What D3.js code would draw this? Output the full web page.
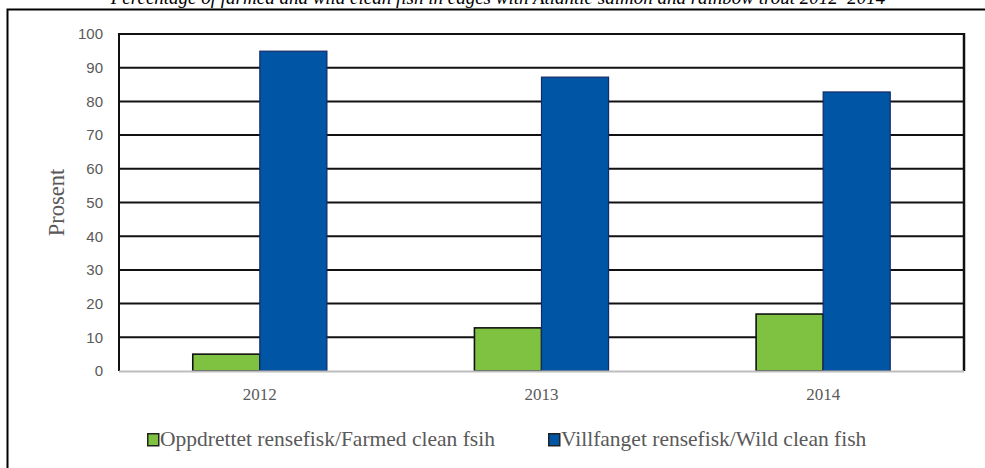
<!DOCTYPE html>
<html>
<head>
<meta charset="utf-8">
<script src="https://cdn.jsdelivr.net/npm/d3@7"></script>
<style>
  html, body { margin: 0; padding: 0; background: #fff; }
  svg { display: block; }
</style>
</head>
<body>
<svg id="chart" width="985" height="468"></svg>
<script>
const titleText = "Percentage of farmed and wild clean fish in cages with Atlantic salmon and rainbow trout 2012–2014";
const years = ["2012", "2013", "2014"];
const seriesNames = ["Oppdrettet rensefisk/Farmed clean fsih", "Villfanget rensefisk/Wild clean fish"];
const farmed = [5, 12.8, 16.9];
const wild = [94.9, 87.2, 82.8];
const yTicks = [0, 10, 20, 30, 40, 50, 60, 70, 80, 90, 100];
const yLabel = "Prosent";
const colors = ["#7fc241", "#0055a5"];
const strokes = ["#111", "#142a66"];

const svg = d3.select("#chart");
const W = 985, H = 468;
const plot = { left: 119, right: 964, top: 34, bottom: 371 };

// outer frame (top and left visible)
svg.append("path")
  .attr("d", `M7.5,${H} L7.5,9.5 L${W},9.5`)
  .attr("fill", "none").attr("stroke", "#000").attr("stroke-width", 2);

// title (partially clipped at the top, as in the reference)
svg.append("text")
  .attr("x", 498).attr("y", 4)
  .attr("text-anchor", "middle")
  .attr("font-family", "'Liberation Serif', 'DejaVu Serif', serif")
  .attr("font-style", "italic")
  .attr("font-size", 19)
  .attr("fill", "#000")
  .text(titleText);

const y = d3.scaleLinear().domain([0, 100]).range([plot.bottom, plot.top]);
const x0 = d3.scaleBand().domain(years).range([plot.left, plot.right]).paddingInner(0).paddingOuter(0);
const x1 = d3.scaleBand().domain([0, 1]).range([0, x0.bandwidth()]).paddingInner(0).paddingOuter(1.1);

// gridlines
svg.append("g")
  .selectAll("line")
  .data(yTicks.filter(t => t > 0))
  .join("line")
  .attr("x1", plot.left).attr("x2", plot.right)
  .attr("y1", d => y(d)).attr("y2", d => y(d))
  .attr("stroke", "#111").attr("stroke-width", 2);

// right border of plot
svg.append("line")
  .attr("x1", plot.right).attr("x2", plot.right)
  .attr("y1", plot.top - 1).attr("y2", plot.bottom)
  .attr("stroke", "#111").attr("stroke-width", 2.5);

// bars
const data = years.map((yr, i) => ({ yr, vals: [farmed[i], wild[i]] }));
const groups = svg.append("g").selectAll("g")
  .data(data).join("g")
  .attr("transform", d => `translate(${x0(d.yr)},0)`);
groups.selectAll("rect")
  .data(d => d.vals.map((v, k) => ({ v, k })))
  .join("rect")
  .attr("x", d => x1(d.k))
  .attr("width", x1.bandwidth())
  .attr("y", d => y(d.v))
  .attr("height", d => y(0) - y(d.v))
  .attr("fill", d => colors[d.k])
  .attr("stroke", d => strokes[d.k])
  .attr("stroke-width", d => d.k === 0 ? 1.6 : 1.2);

// y axis
const yAxis = d3.axisLeft(y).tickValues(yTicks).tickSize(0).tickPadding(16);
const gy = svg.append("g").attr("transform", `translate(${plot.left},0)`).call(yAxis);
gy.select(".domain").remove();
gy.selectAll("text")
  .attr("font-family", "'Liberation Sans', Arial, sans-serif")
  .attr("font-size", 15)
  .attr("fill", "#595959");
svg.append("line")
  .attr("x1", plot.left).attr("x2", plot.left)
  .attr("y1", plot.top - 1).attr("y2", plot.bottom)
  .attr("stroke", "#111").attr("stroke-width", 2);

// x axis
const xAxis = d3.axisBottom(x0).tickSize(0).tickPadding(17);
const gx = svg.append("g").attr("transform", `translate(0,${plot.bottom})`).call(xAxis);
gx.select(".domain").remove();
gx.selectAll("text")
  .attr("font-family", "'Liberation Serif', 'DejaVu Serif', serif")
  .attr("font-size", 17)
  .attr("fill", "#595959");
svg.append("line")
  .attr("x1", plot.left).attr("x2", plot.right)
  .attr("y1", plot.bottom + 0.5).attr("y2", plot.bottom + 0.5)
  .attr("stroke", "#bdbdbd").attr("stroke-width", 2);

// y label
svg.append("text")
  .attr("transform", `translate(64,${(plot.top + plot.bottom) / 2}) rotate(-90)`)
  .attr("text-anchor", "middle")
  .attr("font-family", "'Liberation Serif', 'DejaVu Serif', serif")
  .attr("font-size", 22.5)
  .attr("fill", "#595959")
  .text(yLabel);

// legend
const legendX = [147, 548];
const legend = svg.append("g").selectAll("g")
  .data(seriesNames).join("g")
  .attr("transform", (d, i) => `translate(${legendX[i]},433)`);
legend.append("rect")
  .attr("x", 0.75).attr("y", 0.75).attr("width", 11).attr("height", 12)
  .attr("fill", (d, i) => colors[i])
  .attr("stroke", "#222").attr("stroke-width", 1.5);
legend.append("text")
  .attr("x", 13).attr("y", 12.5)
  .attr("font-family", "'Liberation Serif', 'DejaVu Serif', serif")
  .attr("font-size", 21.5)
  .attr("fill", "#595959")
  .text(d => d);
</script>
</body>
</html>
